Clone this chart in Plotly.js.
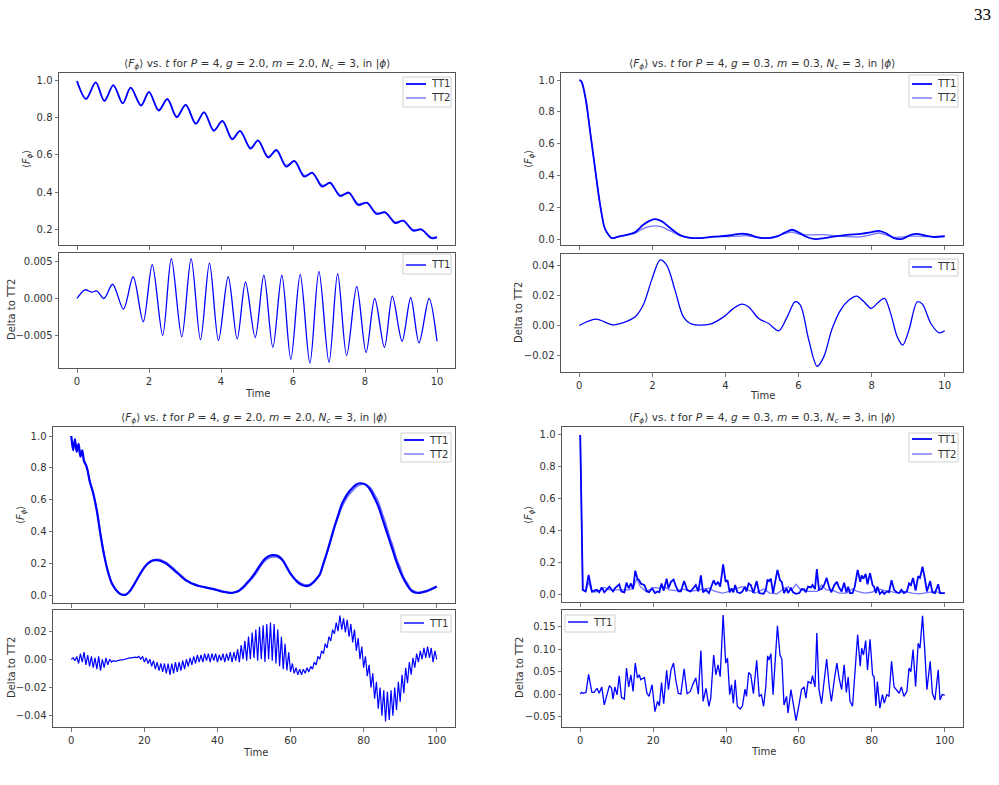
<!DOCTYPE html>
<html>
<head>
<meta charset="utf-8">
<script src="https://cdn.plot.ly/plotly-3.0.1.min.js"></script>
<style>
  html, body { margin: 0; padding: 0; background: #fff; }
  #fig { width: 999px; height: 785px; }
</style>
</head>
<body>
<div id="fig"></div>
<script>
// ---------- Run 1: P=4, g=2.0, m=2.0, t in [0,10] ----------
const tA = [0,0.25,0.52,0.76,1.01,1.27,1.49,1.78,2.0,2.27,2.51,2.77,3.02,3.30,3.53,3.80,4.04,4.31,4.53,4.82,5.03,5.31,5.54,5.81,6.04,6.31,6.54,6.81,7.03,7.31,7.55,7.81,8.05,8.32,8.56,8.84,9.06,9.34,9.56,9.85,10];
const fA_TT1 = [1.0,0.903,0.993,0.892,0.978,0.879,0.964,0.867,0.941,0.84,0.903,0.804,0.872,0.768,0.832,0.731,0.784,0.685,0.730,0.634,0.679,0.586,0.627,0.537,0.568,0.483,0.504,0.429,0.450,0.378,0.397,0.330,0.342,0.281,0.290,0.232,0.245,0.191,0.198,0.150,0.155];
const fA_TT2 = [1.0,0.903,0.992,0.893,0.976,0.880,0.961,0.870,0.937,0.845,0.898,0.809,0.867,0.773,0.828,0.736,0.781,0.690,0.728,0.640,0.676,0.592,0.624,0.545,0.565,0.491,0.500,0.437,0.446,0.385,0.394,0.337,0.342,0.288,0.290,0.238,0.245,0.197,0.198,0.155,0.160];
const tA_delta = [0,0.22,0.41,0.55,0.75,0.99,1.29,1.56,1.84,2.09,2.38,2.62,2.91,3.17,3.43,3.68,3.93,4.20,4.45,4.68,4.95,5.19,5.44,5.69,5.94,6.20,6.47,6.72,7.00,7.24,7.49,7.77,8.03,8.27,8.54,8.76,9.03,9.27,9.50,9.78,10];
const dA = [0,0.00116,0.00084,0.00102,0,0.0019,-0.0014,0.0029,-0.0031,0.0045,-0.0049,0.0053,-0.0051,0.0053,-0.0055,0.0047,-0.0056,0.0029,-0.0054,0.0022,-0.0052,0.0031,-0.0065,0.0031,-0.0081,0.0032,-0.0086,0.0036,-0.0085,0.0033,-0.0076,0.0016,-0.0072,0.0,-0.0065,0.0003,-0.0057,0.0001,-0.0059,0.0,-0.0057];

// ---------- Run 2: P=4, g=0.3, m=0.3, t in [0,10] ----------
const tB = [0,0.06,0.18,0.29,0.43,0.57,0.70,0.80,0.89,1.07,1.3,1.52,1.75,1.94,2.07,2.26,2.49,2.76,3.0,3.3,3.67,4.04,4.4,4.6,4.86,5.1,5.4,5.64,5.82,6.0,6.23,6.46,6.7,6.96,7.33,7.7,7.97,8.2,8.38,8.61,8.84,9.07,9.25,9.48,9.71,10];
const fB_TT1 = [1.0,0.99,0.875,0.69,0.45,0.22,0.07,0.031,0.01,0.02,0.031,0.046,0.094,0.12,0.129,0.115,0.073,0.029,0.013,0.01,0.019,0.025,0.037,0.035,0.017,0.01,0.02,0.046,0.0625,0.046,0.017,0.004,0.01,0.02,0.031,0.037,0.046,0.056,0.042,0.01,0.006,0.031,0.037,0.025,0.017,0.021];
const fB_TT2 = [1.0,0.99,0.875,0.69,0.45,0.22,0.07,0.031,0.01,0.02,0.03,0.04,0.07,0.083,0.087,0.08,0.055,0.025,0.012,0.01,0.018,0.02,0.023,0.025,0.014,0.01,0.023,0.04,0.047,0.035,0.03,0.031,0.032,0.025,0.02,0.018,0.03,0.042,0.03,0.015,0.018,0.022,0.023,0.02,0.02,0.025];
const tB_delta = [0,0.45,0.93,1.3,1.53,1.75,1.98,2.21,2.39,2.62,2.85,3.08,3.58,3.95,4.22,4.45,4.63,4.91,5.18,5.46,5.69,5.91,6.05,6.28,6.51,6.69,6.92,7.15,7.38,7.59,7.79,7.99,8.17,8.35,8.52,8.7,8.85,9.02,9.25,9.39,9.62,9.85,10];
const dB = [0,0.0042,0.0004,0.0027,0.0057,0.0135,0.030,0.0433,0.040,0.0234,0.0057,0.0009,0.0009,0.0057,0.0113,0.0141,0.0124,0.0046,0.0013,-0.0035,0.0057,0.0157,0.0135,-0.0097,-0.027,-0.0208,-0.002,0.0102,0.0168,0.0194,0.0157,0.0113,0.015,0.0179,0.008,-0.0075,-0.013,-0.0031,0.0157,0.0141,0.0013,-0.0049,-0.0035];

// ---------- Run 3: P=4, g=2.0, m=2.0, t in [0,100] ----------
const tC = [0,0.5,1,1.5,2,2.5,3,3.5,4,4.5,5,6,7,8,9,10,11,12,13,14,15,16,17,18,19,20,21,22,23,24,25,26,27,28,29,30,31,32,33,34,35,36,37,38,39,40,41,42,43,44,45,46,47,48,49,50,51,52,53,54,55,56,57,58,59,60,61,62,63,64,65,66,67,68,69,70,71,72,73,74,75,76,77,78,79,80,81,82,83,84,85,86,87,88,89,90,91,92,93,94,95,96,97,98,99,100];
const fC_TT1 = [1.00,0.91,0.98,0.90,0.95,0.87,0.91,0.84,0.82,0.78,0.72,0.64,0.53,0.38,0.25,0.15,0.08,0.04,0.015,0.003,0.005,0.025,0.06,0.10,0.14,0.175,0.20,0.215,0.22,0.218,0.21,0.198,0.18,0.16,0.14,0.12,0.10,0.085,0.073,0.065,0.058,0.053,0.048,0.043,0.038,0.032,0.025,0.02,0.016,0.015,0.02,0.03,0.05,0.075,0.10,0.13,0.165,0.20,0.228,0.245,0.252,0.25,0.24,0.215,0.175,0.135,0.105,0.08,0.065,0.058,0.06,0.075,0.10,0.13,0.20,0.27,0.35,0.43,0.50,0.57,0.615,0.65,0.675,0.695,0.703,0.70,0.686,0.655,0.61,0.56,0.49,0.42,0.35,0.28,0.21,0.15,0.10,0.06,0.03,0.017,0.015,0.018,0.025,0.033,0.043,0.054];
const fC_TT2 = [1.00,0.95,0.96,0.93,0.93,0.89,0.89,0.85,0.82,0.78,0.72,0.64,0.53,0.385,0.255,0.155,0.08,0.04,0.015,0.003,0.005,0.025,0.06,0.10,0.14,0.175,0.20,0.218,0.224,0.225,0.217,0.206,0.187,0.168,0.146,0.126,0.104,0.089,0.075,0.068,0.058,0.053,0.046,0.042,0.036,0.031,0.024,0.019,0.015,0.014,0.018,0.026,0.044,0.068,0.092,0.12,0.152,0.188,0.215,0.232,0.24,0.24,0.232,0.212,0.17,0.135,0.105,0.088,0.073,0.066,0.066,0.08,0.10,0.13,0.195,0.27,0.34,0.42,0.49,0.55,0.595,0.632,0.657,0.68,0.693,0.70,0.69,0.672,0.632,0.59,0.52,0.455,0.375,0.31,0.23,0.175,0.11,0.075,0.035,0.024,0.014,0.02,0.021,0.031,0.038,0.054];
const tC_delta = [0,0.5,1,1.5,2,2.5,3,3.5,4,4.5,5,5.5,6,6.5,7,7.5,8,8.5,9,9.5,10,10.5,11,11.5,12,12.5,13,13.5,14,14.5,15,15.5,16,16.5,17,17.5,18,18.5,19,19.5,20,20.5,21,21.5,22,22.5,23,23.5,24,24.5,25,25.5,26,26.5,27,27.5,28,28.5,29,29.5,30,30.5,31,31.5,32,32.5,33,33.5,34,34.5,35,35.5,36,36.5,37,37.5,38,38.5,39,39.5,40,40.5,41,41.5,42,42.5,43,43.5,44,44.5,45,45.5,46,46.5,47,47.5,48,48.5,49,49.5,50,50.5,51,51.5,52,52.5,53,53.5,54,54.5,55,55.5,56,56.5,57,57.5,58,58.5,59,59.5,60,60.5,61,61.5,62,62.5,63,63.5,64,64.5,65,65.5,66,66.5,67,67.5,68,68.5,69,69.5,70,70.5,71,71.5,72,72.5,73,73.5,74,74.5,75,75.5,76,76.5,77,77.5,78,78.5,79,79.5,80,80.5,81,81.5,82,82.5,83,83.5,84,84.5,85,85.5,86,86.5,87,87.5,88,88.5,89,89.5,90,90.5,91,91.5,92,92.5,93,93.5,94,94.5,95,95.5,96,96.5,97,97.5,98,98.5,99,99.5,100];
const dC = [
  0.000,0.001,-0.001,0.002,-0.003,0.004,-0.002,0.005,-0.004,0.003,
  -0.005,0.002,-0.006,0.001,-0.007,0.002,-0.008,0.000,-0.006,0.001,
  -0.004,0.000,-0.002,-0.001,-0.0015,-0.001,-0.001,-0.0005,-0.0005,0.000,
  0.000,0.0005,0.001,0.001,0.0015,0.0015,0.0012,0.002,0.000,0.002,
  -0.002,0.001,-0.003,0.000,-0.005,-0.001,-0.007,-0.002,-0.008,-0.003,
  -0.009,-0.003,-0.010,-0.003,-0.011,-0.003,-0.010,-0.002,-0.009,-0.002,
  -0.008,-0.001,-0.007,0.000,-0.005,0.001,-0.004,0.002,-0.003,0.003,
  -0.002,0.003,-0.002,0.004,-0.001,0.004,-0.002,0.004,-0.001,0.004,
  -0.002,0.003,-0.001,0.004,-0.002,0.004,-0.001,0.005,-0.002,0.005,
  -0.001,0.007,-0.002,0.010,0.000,0.013,-0.001,0.016,0.000,0.019,
  0.001,0.021,-0.001,0.023,0.000,0.024,-0.002,0.025,0.000,0.026,
  -0.001,0.025,-0.003,0.021,-0.005,0.016,-0.007,0.011,-0.008,0.005,
  -0.009,-0.003,-0.010,-0.006,-0.011,-0.007,-0.011,-0.007,-0.010,-0.006,
  -0.009,-0.005,-0.007,-0.002,-0.004,0.002,0.000,0.006,0.004,0.011,
  0.008,0.016,0.013,0.021,0.018,0.026,0.020,0.031,0.021,0.029,
  0.019,0.028,0.016,0.025,0.012,0.021,0.006,0.015,0.000,0.009,
  -0.006,0.002,-0.012,-0.004,-0.020,-0.010,-0.028,-0.016,-0.035,-0.020,
  -0.040,-0.022,-0.044,-0.023,-0.043,-0.022,-0.040,-0.020,-0.036,-0.016,
  -0.030,-0.011,-0.024,-0.006,-0.017,-0.002,-0.011,0.001,-0.006,0.004,
  -0.002,0.006,0.000,0.008,0.001,0.009,0.001,0.008,-0.002,0.006,
  0.000];

// ---------- Run 4: P=4, g=0.3, m=0.3, t in [0,100] ----------
const tD_TT1 = [0,0.3,0.7,1.5,2.3,3.2,4.6,5.2,5.9,6.6,8,9,9.5,10.7,11.3,12.1,12.7,13.3,13.9,14.5,15.1,15.7,16.2,16.6,17.6,18.3,18.9,19.7,20.5,21.2,21.7,22.3,22.9,23.7,24.2,24.9,25.6,26.2,26.9,27.6,28.5,29.3,30.2,31,31.7,32.4,33.1,33.7,34.5,35.3,36.6,37.2,37.8,38.4,39.2,39.9,40.4,41,41.5,42,42.5,43.1,43.9,44.5,45.2,45.6,46.2,46.8,47.5,48.4,49.1,50.3,50.9,51.4,51.8,52.3,52.9,54.1,54.8,55.3,55.9,56.6,57,57.8,58.4,59.2,60.1,60.7,61.4,61.9,62.5,63.3,63.7,64.4,64.9,65.5,66.2,66.9,67.6,68.3,68.9,69.7,70.4,71,71.7,72.4,73,73.5,74,74.7,75.3,76.1,76.8,77.2,77.7,78.3,78.8,79.5,80.2,80.6,81.1,81.5,82.2,82.9,83.4,84.1,84.7,85.4,86.1,86.8,87.5,88.1,88.8,89.6,90.2,90.7,91.3,92,92.7,93.2,93.9,94.5,95.1,96,96.6,97.3,98.2,98.7,99.3,100];
const fD_TT1 = [1.0,0.6,0.03,0.02,0.123,0.02,0.03,0.015,0.045,0.015,0.05,0.02,0.04,0.065,0.02,0.015,0.075,0.04,0.07,0.035,0.15,0.10,0.09,0.07,0.06,0.02,0.015,0.04,0.01,0.02,0.015,0.07,0.025,0.10,0.04,0.08,0.095,0.055,0.02,0.02,0.085,0.03,0.02,0.04,0.06,0.02,0.12,0.015,0.03,0.01,0.09,0.06,0.08,0.05,0.19,0.08,0.09,0.015,0.04,0.015,0.06,0.015,0.01,0.02,0.05,0.02,0.07,0.06,0.01,0.085,0.01,0.005,0.03,0.095,0.085,0.10,0.01,0.155,0.09,0.08,0.01,0.04,0.01,0.04,0.015,0.005,0.01,0.035,0.035,0.015,0.05,0.045,0.06,0.035,0.16,0.03,0.035,0.06,0.105,0.045,0.015,0.06,0.08,0.045,0.02,0.075,0.015,0.05,0.01,0.01,0.05,0.155,0.08,0.12,0.10,0.13,0.065,0.135,0.06,0.05,0.01,0.05,0.005,0.02,0.005,0.02,0.015,0.09,0.03,0.015,0.01,0.03,0.01,0.02,0.07,0.06,0.105,0.025,0.115,0.105,0.175,0.105,0.02,0.085,0.015,0.01,0.065,0.01,0.01,0.01];
const tD_TT2 = [0,0.3,0.7,1.5,2.3,3.2,5,6.6,8,9,10.7,12,13.3,14.5,15.5,16.5,18,20.5,21.7,23,24.5,26,28.5,30,32,33.7,35.3,37,39,41,43,44.5,46,48,50.3,52,54,56,57,58,59.2,60.5,62,63.5,65,66.2,67.5,69,71,73,74.7,76,78,80,81.1,82.2,83.5,85,87,89,91,93,95,97.3,99,100];
const fD_TT2 = [1.0,0.6,0.03,0.02,0.08,0.015,0.02,0.045,0.03,0.03,0.03,0.03,0.03,0.04,0.10,0.05,0.02,0.045,0.04,0.05,0.03,0.025,0.035,0.02,0.03,0.035,0.04,0.02,0.01,0.02,0.04,0.05,0.03,0.01,0.035,0.01,0.005,0.04,0.05,0.03,0.065,0.03,0.02,0.02,0.02,0.06,0.03,0.03,0.01,0.01,0.035,0.02,0.01,0.015,0.03,0.035,0.025,0.02,0.01,0.02,0.01,0.005,0.01,0.02,0.01,0.01];
const tD_delta = [0,0.4,0.9,1.6,2.3,3.2,3.8,4.6,5.2,5.9,6.6,7.3,8,8.6,9.0,9.5,10.1,10.7,11.3,12.1,12.7,13.3,13.9,14.5,15.1,15.7,16.2,16.6,17.6,18.3,18.9,19.7,20.5,21.2,21.7,22.3,22.9,23.7,24.2,24.9,25.6,26.2,26.9,27.6,28.5,29.3,30.2,31,31.7,32.4,33.1,33.7,34.5,35.3,35.8,36.6,37.2,37.8,38.4,39.2,39.9,40.4,41,41.5,42,42.5,43.1,43.9,44.5,45.2,45.6,46.2,46.8,47.5,48.4,49.1,49.7,50.3,50.9,51.4,51.8,52.3,52.9,54.1,54.8,55.3,55.9,56.6,57,57.8,58.4,59.2,60.1,60.7,61.4,61.9,62.5,63.3,63.7,64.4,64.9,65.5,66.2,66.9,67.6,68.3,68.9,69.7,70.4,71,71.7,72.4,73,73.5,74,74.7,75.3,76.1,76.8,77.2,77.7,78.3,78.8,79.5,80.2,80.6,81.1,81.5,82.2,82.9,83.4,84.1,84.7,85.4,86.1,86.8,87.5,88.1,88.8,89.6,90.2,90.7,91.3,92,92.7,93.2,93.9,94.5,95.1,96,96.6,97.3,98.2,98.7,99.3,100];
const dD = [0,0.004,0.002,0.004,0.044,0.004,0.004,0.013,0.002,0.016,-0.024,-0.0015,0.019,0.013,-0.011,0.016,-0.0015,0.041,-0.007,-0.011,0.058,0.016,0.043,0.006,0.069,0.036,0.043,0.032,0.037,0.002,-0.005,0.021,-0.039,-0.016,-0.026,0.026,-0.021,0.053,0.010,0.054,0.069,0.032,0.002,0,0.056,0.001,0.006,0.024,0.036,0,0.097,-0.016,0.013,-0.027,-0.009,0.087,0.043,0.065,0.039,0.176,0.069,0.08,-0.001,0.021,-0.02,0.032,-0.027,-0.033,-0.026,0.011,-0.005,0.048,0.043,0.001,0.075,-0.005,-0.001,-0.027,0.016,0.085,0.076,0.09,-0.001,0.152,0.087,0.078,-0.024,-0.005,-0.042,0.010,-0.02,-0.059,-0.02,0.010,0.016,-0.009,0.028,0.024,0.041,0.016,0.136,0.010,-0.021,0.028,0.078,0.017,-0.016,0.032,0.069,0.036,0.010,0.065,0.004,0.038,-0.016,-0.027,0.033,0.132,0.062,0.102,0.087,0.119,0.054,0.122,0.043,0.039,-0.026,0.028,-0.031,-0.001,-0.02,-0.001,-0.005,0.073,0.016,0.01,0.002,0.016,-0.005,0.006,0.058,0.05,0.099,0.017,0.113,0.102,0.174,0.099,0.010,0.073,0.002,-0.013,0.054,-0.013,-0.001,-0.002];

// ---------- labels ----------
const seriesNames = ['TT1', 'TT2'];
const yLabelMain = '⟨<i>F</i><sub><i>ϕ</i></sub>⟩';
const yLabelDelta = 'Delta to TT2';
const xLabel = 'Time';
const titleHigh = '⟨<i>F</i><sub><i>ϕ</i></sub>⟩ vs. <i>t</i> for <i>P</i> = 4, <i>g</i> = 2.0, <i>m</i> = 2.0, <i>N</i><sub><i>c</i></sub> = 3, in |<i>ϕ</i>⟩';
const titleLow  = '⟨<i>F</i><sub><i>ϕ</i></sub>⟩ vs. <i>t</i> for <i>P</i> = 4, <i>g</i> = 0.3, <i>m</i> = 0.3, <i>N</i><sub><i>c</i></sub> = 3, in |<i>ϕ</i>⟩';
const pageNumber = '33';

// ---------- styling ----------
const W = 999, H = 785;
const px = x => x / W;
const py = y => 1 - y / H;
const FONT = 'DejaVu Sans, Liberation Sans, sans-serif';
const C1 = 'rgb(0,0,255)';
const C2 = 'rgba(0,0,255,0.55)';
const AX = '#555';
const TXT = '#333';

function xAxis(x0, x1, range, anchor, tickvals, labels) {
  return {
    domain: [px(x0), px(x1)], range: range, anchor: anchor,
    tickmode: 'array', tickvals: tickvals, showticklabels: labels,
    ticks: 'outside', ticklen: 3.5, tickwidth: 0.8, tickcolor: AX,
    showline: true, mirror: true, linecolor: AX, linewidth: 1,
    showgrid: false, zeroline: false,
    tickfont: {family: FONT, size: 10, color: TXT}
  };
}
function yAxis(y0, y1, range, anchor, tickvals, fmt) {
  return {
    domain: [py(y1), py(y0)], range: range, anchor: anchor,
    tickmode: 'array', tickvals: tickvals, tickformat: fmt,
    ticks: 'outside', ticklen: 3.5, tickwidth: 0.8, tickcolor: AX,
    showline: true, mirror: true, linecolor: AX, linewidth: 1,
    showgrid: false, zeroline: false,
    tickfont: {family: FONT, size: 10, color: TXT}
  };
}

const t10 = [0,2,4,6,8,10];
const t100 = [0,20,40,60,80,100];

const layout = {
  width: W, height: H,
  margin: {l: 0, r: 0, t: 0, b: 0},
  paper_bgcolor: '#fff', plot_bgcolor: '#fff',
  showlegend: false,
  font: {family: FONT, color: TXT},
  // Run 1
  xaxis:  xAxis(59, 455, [-0.5, 10.5], 'y', t10, false),
  yaxis:  yAxis(73, 245, [0.1135, 1.0432], 'x', [0.2,0.4,0.6,0.8,1.0], '.1f'),
  xaxis2: xAxis(59, 455, [-0.5, 10.5], 'y2', t10, true),
  yaxis2: yAxis(253, 368, [-0.00927, 0.00607], 'x2', [-0.005, 0, 0.005], '.3f'),
  // Run 2
  xaxis3: xAxis(561, 963, [-0.5, 10.5], 'y3', t10, false),
  yaxis3: yAxis(73, 245, [-0.033, 1.044], 'x3', [0,0.2,0.4,0.6,0.8,1.0], '.1f'),
  xaxis4: xAxis(561, 963, [-0.5, 10.5], 'y4', t10, true),
  yaxis4: yAxis(254, 372, [-0.0308, 0.0473], 'x4', [-0.02, 0, 0.02, 0.04], '.2f'),
  // Run 3
  xaxis5: xAxis(53, 455, [-5, 105], 'y5', t100, false),
  yaxis5: yAxis(427, 603, [-0.049, 1.0565], 'x5', [0,0.2,0.4,0.6,0.8,1.0], '.1f'),
  xaxis6: xAxis(53, 455, [-5, 105], 'y6', t100, true),
  yaxis6: yAxis(610, 727, [-0.048, 0.0349], 'x6', [-0.04, -0.02, 0, 0.02], '.2f'),
  // Run 4
  xaxis7: xAxis(562, 963, [-5, 105], 'y7', t100, false),
  yaxis7: yAxis(427, 602, [-0.046, 1.05], 'x7', [0,0.2,0.4,0.6,0.8,1.0], '.1f'),
  xaxis8: xAxis(562, 963, [-5, 105], 'y8', t100, true),
  yaxis8: yAxis(610, 727, [-0.073, 0.187], 'x8', [-0.05, 0, 0.05, 0.10, 0.15], '.2f'),
  annotations: [],
  shapes: []
};

function label(text, x, y, size, angle, extra) {
  layout.annotations.push(Object.assign({
    text: text, x: px(x), y: py(y), xref: 'paper', yref: 'paper',
    xanchor: 'center', yanchor: 'middle', showarrow: false,
    textangle: angle || 0,
    font: {family: FONT, size: size, color: TXT}
  }, extra || {}));
}

// panel titles
label(titleHigh, 257, 64, 10.6);
label(titleLow, 762, 64, 10.6);
label(titleHigh, 254, 418, 10.6);
label(titleLow, 762, 418, 10.6);
// axis titles
label(yLabelMain, 28, 159, 10, -90);
label(yLabelDelta, 11, 310, 10, -90);
label(yLabelMain, 530, 159, 10, -90);
label(yLabelDelta, 518, 313, 10, -90);
label(yLabelMain, 21, 515, 10, -90);
label(yLabelDelta, 11, 668, 10, -90);
label(yLabelMain, 529, 515, 10, -90);
label(yLabelDelta, 519, 668, 10, -90);
label(xLabel, 257, 393, 10);
label(xLabel, 762, 395, 10);
label(xLabel, 255, 752, 10);
label(xLabel, 763, 751, 10);
// page number
label(pageNumber, 982, 15, 17, 0, {font: {family: 'Liberation Serif, DejaVu Serif, serif', size: 17, color: '#000'}});

// legend boxes drawn as frame + line samples + labels
function legend(x0, y0, x1, y1, entries) {
  layout.shapes.push({
    type: 'rect', xref: 'paper', yref: 'paper',
    x0: px(x0), x1: px(x1), y0: py(y1), y1: py(y0),
    line: {color: '#d0d0d0', width: 1}, fillcolor: 'rgba(255,255,255,0.85)'
  });
  entries.forEach(e => {
    layout.shapes.push({
      type: 'line', xref: 'paper', yref: 'paper',
      x0: px(x0 + 3), x1: px(x0 + 23), y0: py(e.y), y1: py(e.y),
      line: {color: e.color, width: e.width}
    });
    label(e.name, x0 + 26, e.y, 10, 0, {xanchor: 'left'});
  });
}
const ent1 = y => ({name: seriesNames[0], y: y, color: C1, width: 1.8});
const ent2 = y => ({name: seriesNames[1], y: y, color: C2, width: 1.4});
const entD = y => ({name: seriesNames[0], y: y, color: C1, width: 1.4});
legend(403, 77, 451, 107, [ent1(84), ent2(98)]);
legend(403, 254, 451, 274, [entD(265)]);
legend(909, 75, 958, 107, [ent1(84), ent2(98)]);
legend(909, 259, 958, 276, [entD(267)]);
legend(401, 433, 451, 462, [ent1(440), ent2(454)]);
legend(401, 615, 451, 632, [entD(623)]);
legend(909, 433, 958, 462, [ent1(439), ent2(454)]);
legend(565, 615, 615, 632, [entD(622)]);

function line(x, y, xa, ya, name, color, width, shape) {
  return {
    type: 'scatter', mode: 'lines', x: x, y: y, xaxis: xa, yaxis: ya, name: name,
    line: {color: color, width: width, shape: shape || 'linear', smoothing: 0.9},
    hoverinfo: 'skip'
  };
}

const data = [
  line(tA, fA_TT1, 'x', 'y', seriesNames[0], C1, 1.8, 'spline'),
  line(tA, fA_TT2, 'x', 'y', seriesNames[1], C2, 1.3, 'spline'),
  line(tA_delta, dA, 'x2', 'y2', seriesNames[0], C1, 1.3, 'spline'),

  line(tB, fB_TT1, 'x3', 'y3', seriesNames[0], C1, 1.8, 'spline'),
  line(tB, fB_TT2, 'x3', 'y3', seriesNames[1], C2, 1.3, 'spline'),
  line(tB_delta, dB, 'x4', 'y4', seriesNames[0], C1, 1.3, 'spline'),

  line(tC, fC_TT1, 'x5', 'y5', seriesNames[0], C1, 2.2, 'spline'),
  line(tC, fC_TT2, 'x5', 'y5', seriesNames[1], C2, 1.6, 'spline'),
  line(tC_delta, dC, 'x6', 'y6', seriesNames[0], C1, 1.2),

  line(tD_TT1, fD_TT1, 'x7', 'y7', seriesNames[0], C1, 1.8),
  line(tD_TT2, fD_TT2, 'x7', 'y7', seriesNames[1], C2, 1.3),
  line(tD_delta, dD, 'x8', 'y8', seriesNames[0], C1, 1.3)
];

Plotly.newPlot('fig', data, layout, {staticPlot: true, displayModeBar: false});
</script>
</body>
</html>
